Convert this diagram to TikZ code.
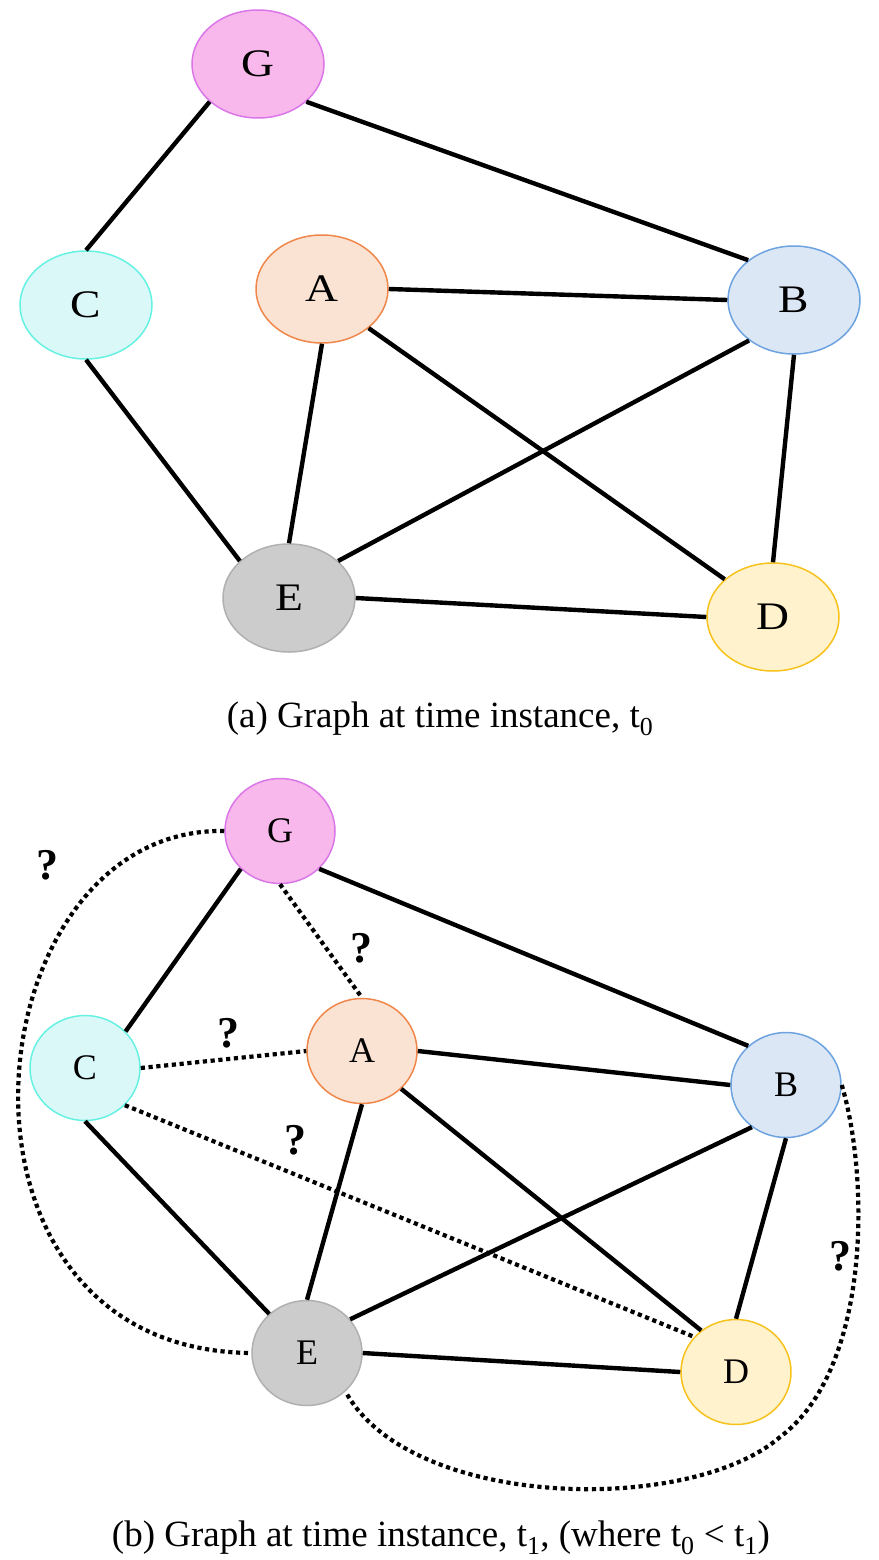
\documentclass[tikz,border=0pt]{standalone}
\usepackage{fontspec}
\usepackage{graphicx}
\setmainfont{Liberation Serif}
\usetikzlibrary{shapes.geometric}
\definecolor{Gfill}{HTML}{F9B8EB}\definecolor{Gdraw}{HTML}{DB76E8}
\definecolor{Cfill}{HTML}{DAF8F8}\definecolor{Cdraw}{HTML}{66F2E3}
\definecolor{Afill}{HTML}{FBE3D4}\definecolor{Adraw}{HTML}{F0874A}
\definecolor{Bfill}{HTML}{DCE7F5}\definecolor{Bdraw}{HTML}{6CA3E0}
\definecolor{Efill}{HTML}{CCCCCC}\definecolor{Edraw}{HTML}{B0B0B0}
\definecolor{Dfill}{HTML}{FFF2CC}\definecolor{Ddraw}{HTML}{F7C21C}
\begin{document}
\begin{tikzpicture}[x=1pt,y=-1pt,
  topnode/.style={ellipse,draw=#1draw,fill=#1fill,line width=1.5pt,inner sep=0pt,
    minimum width=132pt,minimum height=108pt,font=\fontsize{39}{40}\selectfont},
  botnode/.style={ellipse,draw=#1draw,fill=#1fill,line width=1.5pt,inner sep=0pt,
    minimum width=110pt,minimum height=105pt,font=\fontsize{36}{38}\selectfont},
  edge/.style={line width=4.4pt,black},
  dotline/.style={line width=4.2pt,black,dash pattern=on 4.2pt off 3.6pt},
  qmark/.style={font=\fontsize{44}{46}\selectfont\bfseries,inner sep=0pt},
  caption/.style={font=\fontsize{37}{40}\selectfont,inner sep=0pt,anchor=base}]
\useasboundingbox (0,0) rectangle (878,1560);
\fill[white] (0,0) rectangle (878,1560);
% ---------- (a) ----------
\node[topnode=G] (G1) at (258,64) {\scalebox{1.17}[1]{G}};
\node[topnode=C] (C1) at (86,305) {\scalebox{1.17}[1]{C}};
\node[topnode=A] (A1) at (322,289) {\scalebox{1.17}[1]{A}};
\node[topnode=B] (B1) at (794,300) {\scalebox{1.17}[1]{B}};
\node[topnode=E] (E1) at (289,598) {\scalebox{1.17}[1]{E}};
\node[topnode=D] (D1) at (773,617) {\scalebox{1.17}[1]{D}};
\draw[edge] (G1.218) -- (C1.north);
\draw[edge] (G1.-38) -- (B1.139);
\draw[edge] (A1.east) -- (B1.west);
\draw[edge] (A1.south) -- (E1.north);
\draw[edge] (A1.-40) -- (D1.142);
\draw[edge] (B1.222) -- (E1.37);
\draw[edge] (B1.south) -- (D1.north);
\draw[edge] (C1.south) -- (E1.143);
\draw[edge] (E1.east) -- (D1.west);
\node[caption] (capa) at (440,727) {(a) Graph at time instance, t\textsubscript{0}};
% ---------- (b) ----------
\node[botnode=G] (G2) at (280,831) {G};
\node[botnode=C] (C2) at (85,1068) {C};
\node[botnode=A] (A2) at (362,1051) {A};
\node[botnode=B] (B2) at (786,1085) {B};
\node[botnode=E] (E2) at (307,1353) {E};
\node[botnode=D] (D2) at (736,1372) {D};
\coordinate (M) at (780,1437);
\draw[edge] (G2.224) -- (C2.42);
\draw[edge] (G2.-44) -- (B2.134);
\draw[edge] (A2.east) -- (B2.west);
\draw[edge] (A2.south) -- (E2.north);
\draw[edge] (A2.-44) -- (D2.130);
\draw[edge] (C2.south) -- (E2.134);
\draw[edge] (B2.231) -- (E2.38);
\draw[edge] (B2.south) -- (D2.north);
\draw[edge] (E2.east) -- (D2.west);
\draw[dotline] (G2.south) -- (A2.north);
\draw[dotline] (C2.east) -- (A2.west);
\draw[dotline] (C2.-43) -- (D2.140);
\draw[dotline] (G2.west) .. controls (-30,826) and (-80,1350) .. (E2.west);
\draw[dotline] (B2.east) .. controls (870,1180) and (870,1370) .. (M)
  .. controls (690,1515) and (410,1510) .. (E2.-45);
\node[qmark] (q1) at (47,865) {?};
\node[qmark] (q2) at (361,948) {?};
\node[qmark] (q3) at (228,1033) {?};
\node[qmark] (q4) at (295,1140) {?};
\node[qmark] (q5) at (840,1256) {?};
\node[caption] (capb) at (441,1546) {(b) Graph at time instance, t\textsubscript{1}, (where t\textsubscript{0} < t\textsubscript{1})};
\end{tikzpicture}
\end{document}
